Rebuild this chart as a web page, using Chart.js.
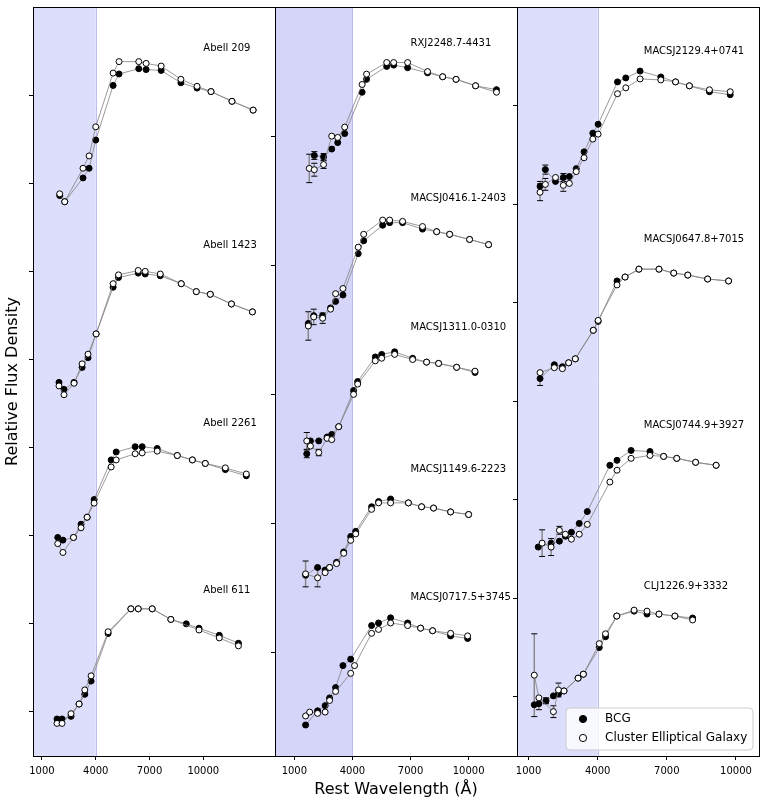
<!DOCTYPE html>
<html>
<head>
<meta charset="utf-8">
<script src="https://cdn.jsdelivr.net/npm/chart.js@4.4.1/dist/chart.umd.min.js"></script>
<style>
  html, body { margin: 0; padding: 0; background: #fff; }
  #wrap { position: relative; width: 765px; height: 805px; }
  #wrap canvas { position: absolute; left: 0; top: 0; }
</style>
</head>
<body>
<div id="wrap">
  <canvas id="c1" width="765" height="805"></canvas>
  <canvas id="c2" width="765" height="805"></canvas>
  <canvas id="c3" width="765" height="805"></canvas>
</div>
<script>
// ---------------- DATA ----------------
const xTickVals = [1000, 4000, 7000, 10000];
const yTicks1 = [0, 1, 2, 3, 4, 5, 6, 7];
const yTicks2 = [0, 1, 2, 3, 4];
const yTicks3 = [0, 1, 2, 3, 4, 5, 6];
const seriesNames = ["BCG", "Cluster Elliptical Galaxy"];

// Panel 1
const a209Wl  = [1990, 2270, 3290, 3630, 4000, 4970, 5300, 6400, 6810, 7650, 8750, 9650, 10430, 11600, 12780];
const a209Bcg = [5.86, 5.79, 6.06, 6.17, 6.49, 7.11, 7.24, 7.30, 7.29, 7.28, 7.14, 7.08, 7.04, 6.93, 6.83];
const a209Ell = [5.88, 5.79, 6.17, 6.31, 6.64, 7.25, 7.38, 7.38, 7.36, 7.33, 7.18, 7.10, 7.04, 6.93, 6.83];

const a1423Wl  = [1950, 2230, 2790, 3240, 3570, 4020, 4970, 5270, 6370, 6760, 7600, 8770, 9610, 10390, 11570, 12740];
const a1423Bcg = [3.74, 3.66, 3.74, 3.91, 4.02, 4.29, 4.82, 4.93, 4.98, 4.97, 4.95, 4.86, 4.77, 4.74, 4.63, 4.54];
const a1423Ell = [3.70, 3.60, 3.73, 3.95, 4.06, 4.29, 4.86, 4.96, 5.01, 5.00, 4.97, 4.86, 4.77, 4.74, 4.63, 4.54];

const a2261Wl  = [1880, 2170, 2760, 3180, 3520, 3910, 4860, 5140, 6200, 6590, 7430, 8550, 9390, 10110, 11230, 12400];
const a2261Bcg = [1.98, 1.95, 1.98, 2.13, 2.21, 2.41, 2.86, 2.95, 3.01, 3.01, 2.99, 2.91, 2.86, 2.82, 2.75, 2.68];
const a2261Ell = [1.91, 1.81, 1.98, 2.09, 2.21, 2.37, 2.78, 2.86, 2.93, 2.94, 2.96, 2.91, 2.86, 2.82, 2.77, 2.70];

const a611Wl  = [1840, 2120, 2620, 3070, 3390, 3740, 4690, 5960, 6370, 7150, 8190, 9050, 9760, 10890, 11960];
const a611Bcg = [-0.08, -0.08, -0.05, 0.09, 0.20, 0.35, 0.89, 1.17, 1.17, 1.17, 1.05, 1.00, 0.95, 0.87, 0.78];
const a611Ell = [-0.13, -0.13, -0.02, 0.09, 0.25, 0.41, 0.91, 1.17, 1.17, 1.17, 1.05, null, 0.93, 0.84, 0.75];

// Panel 2
const rxj2248Wl     = [1770, 2030, 2510, 2930, 3240, 3600, 4500, 4730, 5770, 6130, 6850, 7880, 8660, 9350, 10360, 11440];
const rxj2248Bcg    = [null, 3.85, 3.84, 3.90, 3.95, 4.02, 4.34, 4.44, 4.54, 4.55, 4.53, 4.49, 4.46, 4.44, 4.39, 4.36];
const rxj2248Ell    = [3.75, 3.74, 3.78, 4.00, 3.99, 4.07, 4.40, 4.48, 4.57, 4.57, 4.57, 4.50, 4.46, 4.44, 4.39, 4.34];
const rxj2248BcgErr = [null, 0.03, 0.025];
const rxj2248EllErr = [0.11, 0.05, 0.03];

const m0416Wl     = [1720, 2000, 2460, 2870, 3130, 3510, 4300, 4580, 5560, 5920, 6590, 7620, 8350, 9020, 10050, 11030];
const m0416Bcg    = [2.55, 2.61, 2.61, 2.67, 2.72, 2.77, 3.09, 3.19, 3.31, 3.33, 3.33, 3.28, 3.26, 3.24, 3.20, 3.16];
const m0416Ell    = [2.53, 2.60, 2.59, 2.66, 2.78, 2.82, 3.14, 3.24, 3.35, 3.35, 3.34, 3.30, 3.26, 3.24, 3.20, 3.16];
const m0416EllErr = [0.11, 0.06, 0.04];

const m1311Wl     = [1640, 1830, 2260, 2690, 2930, 3290, 4060, 4270, 5180, 5510, 6180, 7110, 7830, 8450, 9380, 10330];
const m1311Bcg    = [1.54, 1.64, 1.64, 1.67, 1.69, 1.75, 2.03, 2.10, 2.29, 2.31, 2.33, 2.28, 2.25, 2.24, 2.21, 2.17];
const m1311Ell    = [1.64, 1.60, 1.55, 1.66, 1.65, 1.75, 2.00, 2.08, 2.26, 2.28, 2.31, 2.27, 2.25, 2.24, 2.21, 2.18];
const m1311BcgErr = [0.03];
const m1311EllErr = [0.065, null, 0.025];

const m1149Wl     = [1580, 2200, 2590, 2820, 3180, 3550, 3910, 4170, 4990, 5350, 5970, 6890, 7570, 8190, 9070, 10000];
const m1149Bcg    = [0.60, 0.66, 0.64, 0.66, 0.70, 0.78, 0.90, 0.94, 1.13, 1.17, 1.19, 1.16, 1.13, 1.12, 1.09, 1.07];
const m1149Ell    = [0.61, 0.58, 0.62, 0.66, 0.69, 0.77, 0.87, 0.92, 1.11, 1.16, 1.16, 1.16, 1.13, 1.12, 1.09, 1.07];
const m1149EllErr = [0.10, 0.07];

const m0717Wl  = [1580, 1790, 2200, 2590, 2820, 3130, 3510, 3910, 4110, 4990, 5350, 5970, 6850, 7520, 8140, 9070, 9950];
const m0717Bcg = [-0.56, null, -0.45, -0.41, -0.35, -0.27, -0.10, -0.05, null, 0.21, 0.23, 0.27, 0.23, 0.19, 0.17, 0.13, 0.11];
const m0717Ell = [-0.49, -0.46, -0.47, -0.46, -0.37, -0.30, null, -0.16, -0.10, 0.15, 0.18, 0.23, 0.21, 0.19, 0.17, 0.15, 0.13];

// Panel 3
const m2129Wl     = [1500, 1730, 2170, 2510, 2770, 3070, 3410, 3790, 4020, 4860, 5220, 5840, 6740, 7380, 7980, 8850, 9750];
const m2129Bcg    = [5.18, 5.35, 5.23, 5.27, 5.28, 5.36, 5.53, 5.72, 5.81, 6.24, 6.28, 6.35, 6.29, 6.24, 6.20, 6.14, 6.11];
const m2129Ell    = [5.12, 5.20, 5.27, 5.19, 5.21, 5.33, 5.47, 5.66, 5.71, 6.12, 6.18, 6.27, 6.26, 6.24, 6.20, 6.16, 6.14];
const m2129BcgErr = [0.05, 0.046, null, 0.04];
const m2129EllErr = [0.085, 0.06, null, 0.06];

const m0647Wl     = [1500, 2120, 2470, 2740, 3030, 3810, 4020, 4840, 5190, 5790, 6660, 7300, 7910, 8770, 9680];
const m0647Bcg    = [3.23, 3.37, 3.35, 3.39, 3.43, 3.72, 3.81, 4.22, 4.26, 4.34, 4.34, 4.30, 4.28, 4.24, 4.22];
const m0647Ell    = [3.29, 3.34, 3.33, 3.39, 3.43, 3.72, 3.82, 4.18, 4.26, 4.34, 4.34, 4.30, 4.28, 4.24, 4.22];
const m0647BcgErr = [0.07];

const m0744Wl     = [1420, 1590, 1980, 2340, 2600, 2860, 3200, 3550, 4530, 4840, 5450, 6270, 6860, 7430, 8250, 9140];
const m0744Bcg    = [1.52, null, 1.56, 1.58, 1.63, 1.67, 1.76, 1.88, 2.35, 2.40, 2.50, 2.49, 2.44, 2.42, 2.38, 2.35];
const m0744Ell    = [null, 1.56, 1.52, 1.69, 1.65, 1.60, 1.65, 1.75, 2.18, 2.30, 2.42, 2.45, 2.44, 2.42, 2.38, 2.35];
const m0744EllErr = [null, 0.135, 0.086, 0.04];

const clj1226Wl     = [1250, 1450, 1760, 2080, 2300, 2540, 3150, 3380, 4070, 4340, 4830, 5580, 6140, 6660, 7350, 8120];
const clj1226Bcg    = [-0.08, -0.07, -0.04, 0.01, 0.03, 0.06, 0.19, 0.23, 0.50, 0.61, 0.82, 0.87, 0.84, 0.84, 0.82, 0.80];
const clj1226Ell    = [0.22, -0.01, null, -0.15, 0.07, 0.06, 0.19, 0.23, 0.54, 0.64, 0.82, 0.88, 0.87, 0.84, 0.82, 0.78];
const clj1226BcgErr = [null, 0.06, 0.03];
const clj1226EllErr = [0.42, null, null, 0.06, 0.07];

// cluster names and where their name label sits (data units)
const names1 = ["Abell 209", "Abell 1423", "Abell 2261", "Abell 611"];
const labelY1 = [7.535, 5.29, 3.275, 1.38];
const names2 = ["RXJ2248.7-4431", "MACSJ0416.1-2403", "MACSJ1311.0-0310", "MACSJ1149.6-2223", "MACSJ0717.5+3745"];
const labelY2 = [4.717, 3.519, 2.521, 1.423, 0.425];
const names3 = ["MACSJ2129.4+0741", "MACSJ0647.8+7015", "MACSJ0744.9+3927", "CLJ1226.9+3332"];
const labelY3 = [6.551, 4.637, 2.753, 1.119];

// ---------------- BUILD ----------------
Chart.defaults.font.family = "'DejaVu Sans', sans-serif";
Chart.defaults.color = '#000';

function cl(name, ly, wl, bcg, ell, bcgErr, ellErr) {
  return {name, ly, wl, bcg, ell, bcgErr: bcgErr || [], ellErr: ellErr || []};
}

const panels = [
  { id: 'c1', xMin: 500, xMax: 14000, yMin: -0.5, yMax: 8.0, yTicks: yTicks1,
    padLeft: 0, yWidth: 33, right: 275, labelX: 10000,
    shade: 'rgb(221,221,252)', shadeEdge: 'rgb(190,190,246)',
    clusters: [
      cl(names1[0], labelY1[0], a209Wl, a209Bcg, a209Ell),
      cl(names1[1], labelY1[1], a1423Wl, a1423Bcg, a1423Ell),
      cl(names1[2], labelY1[2], a2261Wl, a2261Bcg, a2261Ell),
      cl(names1[3], labelY1[3], a611Wl, a611Bcg, a611Ell)
    ] },
  { id: 'c2', xMin: 0, xMax: 12500, yMin: -0.8, yMax: 5.0, yTicks: yTicks2,
    padLeft: 265, yWidth: 10, right: 517, labelX: 7000,
    shade: 'rgb(213,213,250)', shadeEdge: 'rgb(185,185,246)',
    clusters: [
      cl(names2[0], labelY2[0], rxj2248Wl, rxj2248Bcg, rxj2248Ell, rxj2248BcgErr, rxj2248EllErr),
      cl(names2[1], labelY2[1], m0416Wl, m0416Bcg, m0416Ell, null, m0416EllErr),
      cl(names2[2], labelY2[2], m1311Wl, m1311Bcg, m1311Ell, m1311BcgErr, m1311EllErr),
      cl(names2[3], labelY2[3], m1149Wl, m1149Bcg, m1149Ell, null, m1149EllErr),
      cl(names2[4], labelY2[4], m0717Wl, m0717Bcg, m0717Ell)
    ] },
  { id: 'c3', xMin: 500, xMax: 11000, yMin: -0.6, yMax: 7.0, yTicks: yTicks3,
    padLeft: 507, yWidth: 10, right: 759, labelX: 6000, legend: true,
    shade: 'rgb(221,221,252)', shadeEdge: 'rgb(190,190,246)',
    clusters: [
      cl(names3[0], labelY3[0], m2129Wl, m2129Bcg, m2129Ell, m2129BcgErr, m2129EllErr),
      cl(names3[1], labelY3[1], m0647Wl, m0647Bcg, m0647Ell, m0647BcgErr),
      cl(names3[2], labelY3[2], m0744Wl, m0744Bcg, m0744Ell, null, m0744EllErr),
      cl(names3[3], labelY3[3], clj1226Wl, clj1226Bcg, clj1226Ell, clj1226BcgErr, clj1226EllErr)
    ] }
];

const decor = {
  id: 'decor',
  beforeDatasetsDraw(chart, args, o) {
    const {ctx, chartArea: a, scales: {x, y}} = chart;
    const p = o.panel;
    ctx.save();
    const xr = x.getPixelForValue(4000);
    ctx.fillStyle = p.shade;
    ctx.fillRect(a.left, a.top, xr - a.left, a.bottom - a.top);
    ctx.strokeStyle = p.shadeEdge;
    ctx.lineWidth = 1;
    ctx.beginPath();
    ctx.moveTo(Math.round(xr) + 0.5, a.top);
    ctx.lineTo(Math.round(xr) + 0.5, a.bottom);
    ctx.stroke();
    // error bars
    p.clusters.forEach(c => {
      [[c.bcg, c.bcgErr], [c.ell, c.ellErr]].forEach(([vals, errs]) => {
        errs.forEach((e, i) => {
          if (e == null || vals[i] == null) return;
          const px = x.getPixelForValue(c.wl[i]);
          const y1 = y.getPixelForValue(vals[i] + e);
          const y2 = y.getPixelForValue(vals[i] - e);
          ctx.strokeStyle = '#8a8a8a';
          ctx.lineWidth = 1.5;
          ctx.beginPath(); ctx.moveTo(px, y1); ctx.lineTo(px, y2); ctx.stroke();
          ctx.strokeStyle = '#000';
          ctx.lineWidth = 1;
          ctx.beginPath();
          ctx.moveTo(px - 3, y1); ctx.lineTo(px + 3, y1);
          ctx.moveTo(px - 3, y2); ctx.lineTo(px + 3, y2);
          ctx.stroke();
        });
      });
    });
    ctx.restore();
  },
  afterDraw(chart, args, o) {
    const {ctx, chartArea: a, scales: {x, y}} = chart;
    const p = o.panel;
    ctx.save();
    // cluster names
    ctx.font = "10px 'DejaVu Sans'";
    ctx.fillStyle = '#000';
    ctx.textAlign = 'left';
    ctx.textBaseline = 'middle';
    p.clusters.forEach(c => {
      ctx.fillText(c.name, x.getPixelForValue(p.labelX), y.getPixelForValue(c.ly));
    });
    // frame
    ctx.strokeStyle = '#000';
    ctx.lineWidth = 1;
    const l = Math.floor(a.left) + 0.5, t = Math.floor(a.top) + 0.5;
    const r = Math.floor(a.right) + 0.5, b = Math.floor(a.bottom) + 0.5;
    ctx.strokeRect(l, t, r - l, b - t);
    // legend
    if (p.legend) {
      const w = 187, h = 42;
      const bx = a.right - 6 - w, by = a.bottom - 6 - h;
      const rr = 4;
      ctx.beginPath();
      ctx.moveTo(bx + rr, by);
      ctx.arcTo(bx + w, by, bx + w, by + h, rr);
      ctx.arcTo(bx + w, by + h, bx, by + h, rr);
      ctx.arcTo(bx, by + h, bx, by, rr);
      ctx.arcTo(bx, by, bx + w, by, rr);
      ctx.closePath();
      ctx.fillStyle = 'rgba(255,255,255,0.8)';
      ctx.fill();
      ctx.strokeStyle = '#cccccc';
      ctx.lineWidth = 1;
      ctx.stroke();
      const rows = [by + 11, by + 30];
      ctx.font = "12px 'DejaVu Sans'";
      ctx.textBaseline = 'middle';
      ctx.textAlign = 'left';
      rows.forEach((ry, k) => {
        ctx.beginPath();
        ctx.arc(bx + 17, ry, 3.6, 0, Math.PI * 2);
        ctx.fillStyle = k === 0 ? '#000' : '#fff';
        ctx.fill();
        ctx.strokeStyle = '#000';
        ctx.lineWidth = 1;
        ctx.stroke();
        ctx.fillStyle = '#000';
        ctx.fillText(seriesNames[k], bx + 39, ry);
      });
    }
    ctx.restore();
  }
};

panels.forEach((p, idx) => {
  const datasets = [];
  p.clusters.forEach(c => {
    datasets.push({
      label: seriesNames[1],
      data: c.wl.map((xv, i) => ({x: xv, y: c.ell[i]})),
      showLine: true, spanGaps: true, order: 0,
      borderColor: '#808080', borderWidth: 0.8,
      pointRadius: 3, pointHoverRadius: 3,
      pointBackgroundColor: '#ffffff', pointBorderColor: '#000000', pointBorderWidth: 1
    });
    datasets.push({
      label: seriesNames[0],
      data: c.wl.map((xv, i) => ({x: xv, y: c.bcg[i]})),
      showLine: true, spanGaps: true, order: 1,
      borderColor: '#808080', borderWidth: 0.8,
      pointRadius: 3, pointHoverRadius: 3,
      pointBackgroundColor: '#000000', pointBorderColor: '#000000', pointBorderWidth: 1
    });
  });

  new Chart(document.getElementById(p.id), {
    type: 'scatter',
    data: {datasets},
    options: {
      responsive: false,
      animation: false,
      events: [],
      layout: {padding: {left: p.padLeft, right: 765 - p.right, top: 7, bottom: 0}},
      plugins: {
        legend: {display: false},
        tooltip: {enabled: false},
        decor: {panel: p}
      },
      scales: {
        x: {
          type: 'linear', position: 'bottom', min: p.xMin, max: p.xMax,
          afterBuildTicks: s => { s.ticks = xTickVals.map(v => ({value: v})); },
          afterFit: s => { s.height = 49; },
          ticks: {autoSkip: false, maxRotation: 0, padding: 5, color: '#000',
                  font: {size: 10}, callback: v => String(v)},
          grid: {drawOnChartArea: false, drawTicks: true, tickLength: 4, color: '#000', lineWidth: 1},
          border: {display: false},
          title: idx === 1
            ? {display: true, text: 'Rest Wavelength (Å)', color: '#000', font: {size: 16}, padding: {top: 0, bottom: 6}}
            : {display: false}
        },
        y: {
          type: 'linear', position: 'left', min: p.yMin, max: p.yMax,
          afterBuildTicks: s => { s.ticks = p.yTicks.map(v => ({value: v})); },
          afterFit: s => { s.width = p.yWidth; },
          ticks: {display: false},
          grid: {drawOnChartArea: false, drawTicks: true, tickLength: 4, color: '#000', lineWidth: 1},
          border: {display: false},
          title: idx === 0
            ? {display: true, text: 'Relative Flux Density', color: '#000', font: {size: 16}, padding: {top: 3, bottom: 0}}
            : {display: false}
        }
      }
    },
    plugins: [decor]
  });
});
</script>
</body>
</html>
